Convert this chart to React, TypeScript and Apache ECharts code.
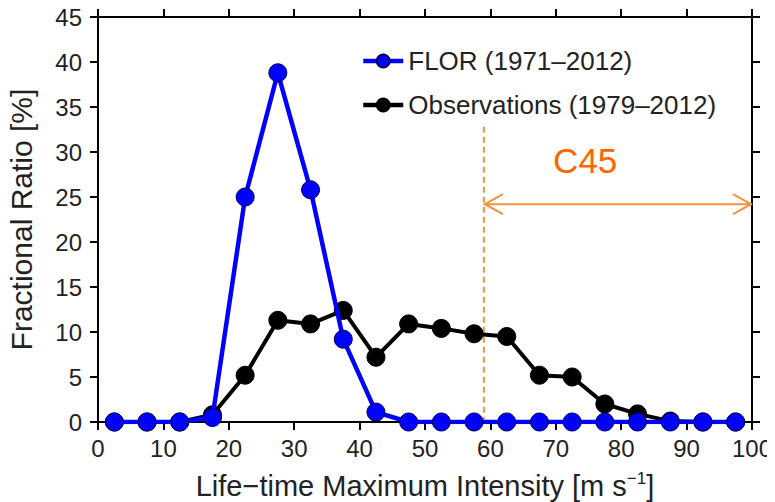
import React, { useEffect, useRef } from "react";
import * as echarts from "echarts";

const xCenters = [2.5, 7.5, 12.5, 17.5, 22.5, 27.5, 32.5, 37.5, 42.5, 47.5, 52.5, 57.5, 62.5, 67.5, 72.5, 77.5, 82.5, 87.5, 92.5, 97.5];
const florValues = [0, 0, 0, 0.5, 25, 38.8, 25.8, 9.2, 1.1, 0, 0, 0, 0, 0, 0, 0, 0, 0, 0, 0];
const obsValues = [0, 0, 0, 0.8, 5.2, 11.3, 10.9, 12.4, 7.2, 10.9, 10.4, 9.8, 9.5, 5.2, 5.0, 2.0, 0.9, 0.1, 0, 0];
const florName = "FLOR (1971–2012)";
const obsName = "Observations (1979–2012)";
const c45Threshold = 59;
const c45ArrowLevel = 24.2;
const c45DashTop = 32.8;
const c45LabelPos = [74.5, 29.1];
const c45Label = "C45";

const FONT = "Liberation Sans, Arial, Helvetica, sans-serif";
const ORANGE = "#f5923e";

export default function App() {
  const ref = useRef<HTMLDivElement>(null);
  useEffect(() => {
    if (!ref.current) return;
    const chart = echarts.init(ref.current, null, { renderer: "svg" });
    const axisLine = { show: true, onZero: false, lineStyle: { color: "#000", width: 2 } };
    const axisTick = { show: true, inside: false, length: 8, lineStyle: { color: "#000", width: 2 } };
    chart.setOption({
      animation: false,
      backgroundColor: "#fff",
      textStyle: { fontFamily: FONT },
      grid: { left: 98, right: 23, top: 17, bottom: 80, containLabel: false, outerBoundsMode: "none" },
      legend: {
        orient: "vertical",
        left: 356,
        top: 43,
        itemWidth: 40,
        itemHeight: 16,
        itemGap: 18,
        data: [florName, obsName],
        lineStyle: { width: 4.5 },
        textStyle: { fontSize: 26, color: "#222", fontFamily: FONT },
      },
      xAxis: [
        {
          type: "value",
          min: 0,
          max: 100,
          interval: 10,
          axisLine,
          axisTick,
          splitLine: { show: false },
          axisLabel: { fontSize: 24, color: "#222", margin: 14, fontFamily: FONT },
          name: "Life−time Maximum Intensity [m s{sup|−1}]",
          nameLocation: "middle",
          nameGap: 48,
          nameTextStyle: {
            fontSize: 29,
            color: "#222",
            fontFamily: FONT,
            rich: { sup: { fontSize: 17, verticalAlign: "top", padding: [0, 0, 14, 0], color: "#222", fontFamily: FONT } },
          },
        },
        {
          type: "value",
          position: "top",
          min: 0,
          max: 100,
          interval: 10,
          axisLine,
          axisTick,
          axisLabel: { show: false },
          splitLine: { show: false },
        },
      ],
      yAxis: [
        {
          type: "value",
          min: 0,
          max: 45,
          interval: 5,
          axisLine,
          axisTick,
          splitLine: { show: false },
          axisLabel: { fontSize: 24, color: "#222", margin: 16, fontFamily: FONT },
          name: "Fractional Ratio [%]",
          nameLocation: "middle",
          nameGap: 62,
          nameTextStyle: { fontSize: 30, color: "#222", fontFamily: FONT },
        },
        {
          type: "value",
          position: "right",
          min: 0,
          max: 45,
          interval: 5,
          axisLine,
          axisTick,
          axisLabel: { show: false },
          splitLine: { show: false },
        },
      ],
      series: [
        {
          name: "annotation",
          type: "custom",
          silent: true,
          z: 1,
          data: [[c45Threshold, c45ArrowLevel]],
          renderItem: (params: any, api: any) => {
            const top = api.coord([c45Threshold, c45DashTop]);
            const bottom = api.coord([c45Threshold, 0]);
            const left = api.coord([c45Threshold, c45ArrowLevel]);
            const right = api.coord([100, c45ArrowLevel]);
            const lbl = api.coord(c45LabelPos);
            const st = { stroke: ORANGE, lineWidth: 2, fill: null };
            return {
              type: "group",
              children: [
                { type: "line", shape: { x1: top[0], y1: top[1], x2: bottom[0], y2: bottom[1] }, style: { ...st, lineDash: [6, 4] } },
                { type: "line", shape: { x1: left[0], y1: left[1], x2: right[0], y2: right[1] }, style: st },
                { type: "polyline", shape: { points: [[left[0] + 19, left[1] - 10], [left[0] + 1, left[1]], [left[0] + 19, left[1] + 10]] }, style: st },
                { type: "polyline", shape: { points: [[right[0] - 19, right[1] - 10], [right[0] - 1, right[1]], [right[0] - 19, right[1] + 10]] }, style: st },
                {
                  type: "text",
                  x: lbl[0],
                  y: lbl[1],
                  style: { text: c45Label, fill: "#ff6600", fontSize: 35, fontFamily: FONT, align: "center", verticalAlign: "middle" },
                },
              ],
            };
          },
        },
        {
          name: obsName,
          type: "line",
          z: 3,
          data: xCenters.map((x, i) => [x, obsValues[i]]),
          symbol: "circle",
          symbolSize: 18,
          lineStyle: { color: "#000", width: 4 },
          itemStyle: { color: "#000", borderColor: "#000", borderWidth: 1 },
        },
        {
          name: florName,
          type: "line",
          z: 4,
          data: xCenters.map((x, i) => [x, florValues[i]]),
          symbol: "circle",
          symbolSize: 18,
          lineStyle: { color: "#0000ff", width: 4.5 },
          itemStyle: { color: "#0000ff", borderColor: "#000055", borderWidth: 1 },
        },
      ],
    });
    return () => chart.dispose();
  }, []);
  return <div ref={ref} style={{ width: 775, height: 502, marginLeft: -8, marginTop: -8 }} />;
}
